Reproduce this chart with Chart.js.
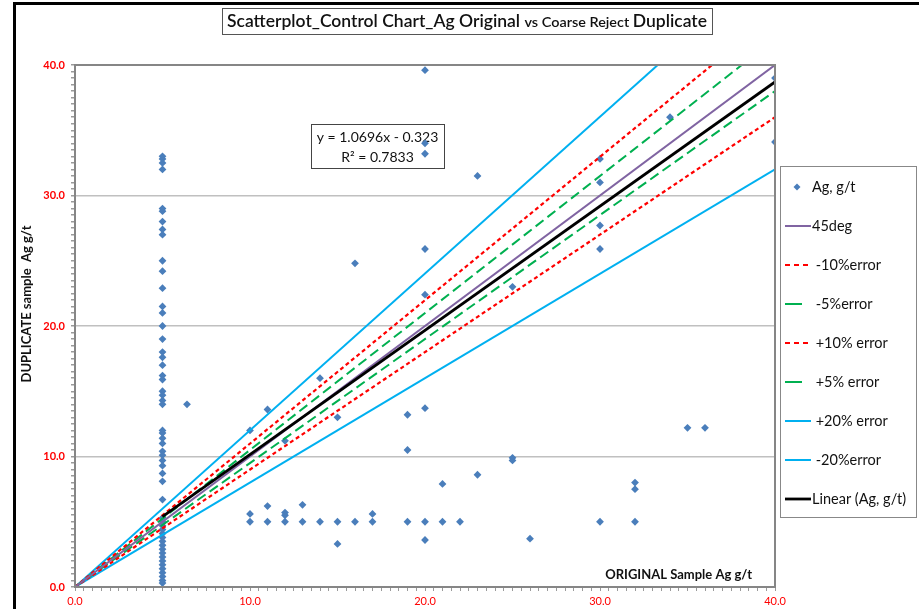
<!DOCTYPE html>
<html>
<head>
<meta charset="utf-8">
<script src="https://cdn.jsdelivr.net/npm/chart.js@4.4.1/dist/chart.umd.min.js"></script>
<style>
  html, body { margin: 0; padding: 0; background: #fff; }
  #wrap { position: relative; width: 919px; height: 609px; }
</style>
</head>
<body>
<div id="wrap"><canvas id="qcChart" width="919" height="609"></canvas></div>
<script>
// Ag g/t, original sample vs coarse reject duplicate
const origAg = [
  5, 5, 5, 5, 5, 5, 5, 5, 5, 5, 5, 5, 5, 5, 5, 5, 5, 5, 5, 5, 5, 5, 5, 5, 5, 5, 5,
  5, 5, 5, 5, 5, 5, 5, 5, 5, 5, 5, 5, 5, 5, 5, 5, 5, 5, 5, 5, 5, 5, 5, 5, 5, 5, 5,
  6.4, 10, 10, 10, 11, 11, 11, 12, 12, 12, 12, 13, 13, 14, 14, 15, 15, 15, 16, 16, 17, 17,
  19, 19, 19, 20, 20, 20, 20, 20, 20, 20, 20, 21, 21, 22, 23, 23, 25, 25, 25, 26,
  30, 30, 30, 30, 30, 32, 32, 32, 34, 35, 36, 40, 40
];
const dupAg = [
  33.0, 32.8, 32.5, 32.0, 29.0, 28.8, 28.0, 27.4, 27.0, 25.0, 24.2, 22.9, 21.5, 21.0, 20.0, 19.0, 18.0, 17.6, 17.0, 16.2, 15.9, 15.0, 14.7, 14.3, 14.0, 12.0, 11.8,
  11.4, 11.0, 10.4, 10.1, 9.7, 9.3, 8.7, 8.1, 6.7, 5.3, 5.0, 4.7, 4.4, 4.1, 3.8, 3.5, 3.2, 2.9, 2.6, 2.3, 2.0, 1.7, 1.4, 1.1, 0.8, 0.5, 0.3,
  14.0, 12.0, 5.6, 5.0, 13.6, 6.2, 5.0, 11.2, 5.7, 5.5, 5.0, 6.3, 5.0, 16.0, 5.0, 13.0, 5.0, 3.3, 24.8, 5.0, 5.6, 5.0,
  13.2, 10.5, 5.0, 39.6, 34.0, 33.2, 25.9, 22.4, 13.7, 5.0, 3.6, 7.9, 5.0, 5.0, 31.5, 8.6, 23.0, 9.9, 9.7, 3.7,
  32.8, 31.0, 27.7, 25.9, 5.0, 8.0, 7.5, 5.0, 36.0, 12.2, 12.2, 39.0, 34.1
];

// reference lines, end points where they leave the plot
const line45X = [0, 40],     line45Y = [0, 40];
const minus10X = [0, 40],    minus10Y = [0, 36];
const minus5X = [0, 40],     minus5Y = [0, 38];
const plus10X = [0, 36.4],   plus10Y = [0, 40];
const plus5X = [0, 38.1],    plus5Y = [0, 40];
const plus20X = [0, 33.3],   plus20Y = [0, 40];
const minus20X = [0, 40],    minus20Y = [0, 32];
const trendX = [5, 40],      trendY = [5.4, 38.7];

const majorTicks = [0, 10, 20, 30, 40];

const FONT = "Lato, 'Open Sans', sans-serif";

function pts(xs, ys) {
  return xs.map((x, i) => ({ x: x, y: ys[i] }));
}

function lineSet(label, xs, ys, color, width, dash, order) {
  return {
    type: "line",
    label: label,
    data: pts(xs, ys),
    borderColor: color,
    backgroundColor: color,
    borderWidth: width,
    borderDash: dash,
    pointRadius: 0,
    fill: false,
    tension: 0,
    order: order
  };
}

const datasets = [
  {
    type: "scatter",
    label: "Ag, g/t",
    data: pts(origAg, dupAg),
    pointStyle: "rectRot",
    pointRadius: 3.9,
    pointBackgroundColor: "#4A7EBB",
    pointBorderColor: "#4A7EBB",
    borderWidth: 0,
    order: 2
  },
  lineSet("45deg", line45X, line45Y, "#8064A2", 2, [], 1),
  lineSet(" -10%error", minus10X, minus10Y, "#FF0000", 2.2, [4, 3], 1),
  lineSet(" -5%error", minus5X, minus5Y, "#00B050", 2, [10, 5], 1),
  lineSet(" +10% error", plus10X, plus10Y, "#FF0000", 2.2, [4, 3], 1),
  lineSet(" +5% error", plus5X, plus5Y, "#00B050", 2, [10, 5], 1),
  lineSet(" +20% error", plus20X, plus20Y, "#00B0F0", 2, [], 1),
  lineSet(" -20%error", minus20X, minus20Y, "#00B0F0", 2, [], 1),
  lineSet("Linear (Ag, g/t)", trendX, trendY, "#000000", 2.8, [], 0)
];

// outer frame, plot border, title, labels, equation and legend
const decorations = {
  id: "decorations",
  beforeDraw(chart) {
    const c = chart.ctx;
    c.save();
    c.fillStyle = "#fff";
    c.fillRect(0, 0, chart.width, chart.height);
    c.fillStyle = "#000";
    c.fillRect(13, 2, 3, chart.height - 2);
    c.fillRect(13, 2, chart.width - 13, 3);
    c.restore();
  },
  beforeDatasetsDraw(chart) {
    // regression label sits under the markers
    const c = chart.ctx;
    c.save();
    c.fillStyle = "#fff";
    c.fillRect(311, 124, 133, 44);
    c.strokeStyle = "#444";
    c.lineWidth = 1;
    c.strokeRect(311.5, 124.5, 133, 44);
    c.fillStyle = "#111";
    c.font = "14px " + FONT;
    c.textAlign = "center";
    c.textBaseline = "middle";
    c.fillText("y = 1.0696x - 0.323", 377.5, 137);
    c.fillText("R\u00B2 = 0.7833", 377.5, 157);
    c.restore();
  },
  afterDraw(chart) {
    const c = chart.ctx;
    const a = chart.chartArea;
    c.save();

    // plot area border
    c.strokeStyle = "#868686";
    c.lineWidth = 2;
    c.strokeRect(a.left, a.top, a.right - a.left, a.bottom - a.top);

    // title in a box
    const parts = [
      ["Scatterplot_Control Chart_Ag Original ", 17],
      ["vs Coarse Reject ", 14],
      ["Duplicate", 17]
    ];
    let w = 0;
    parts.forEach(p => { c.font = "600 " + p[1] + "px " + FONT; w += c.measureText(p[0]).width; });
    const s = 480 / w;
    c.strokeStyle = "#555";
    c.lineWidth = 1;
    c.strokeRect(222.5, 8.5, 490, 26);
    c.fillStyle = "#111";
    c.textBaseline = "alphabetic";
    c.textAlign = "left";
    c.translate(467 - 240, 27);
    c.scale(s, 1);
    let x = 0;
    parts.forEach(p => {
      c.font = "600 " + p[1] + "px " + FONT;
      c.fillText(p[0], x, 0);
      x += c.measureText(p[0]).width;
    });
    c.setTransform(1, 0, 0, 1, 0, 0);

    // axis titles
    c.fillStyle = "#111";
    c.font = "bold 13px " + FONT;
    c.textAlign = "right";
    c.textBaseline = "middle";
    c.fillText("ORIGINAL Sample Ag g/t", 752, 575);
    c.save();
    c.translate(27, 304);
    c.rotate(-Math.PI / 2);
    c.textAlign = "center";
    c.fillText("DUPLICATE sample  Ag g/t", 0, 0);
    c.restore();

    // legend box
    c.fillStyle = "#fff";
    c.fillRect(780, 166, 137, 352);
    c.strokeStyle = "#888";
    c.lineWidth = 1;
    c.strokeRect(780.5, 166.5, 136, 351);
    c.font = "14.5px " + FONT;
    c.textAlign = "left";
    chart.data.datasets.forEach((ds, i) => {
      const y = 187 + i * 39;
      if (ds.type === "scatter") {
        c.fillStyle = ds.pointBackgroundColor;
        c.beginPath();
        c.moveTo(797, y - 3.5);
        c.lineTo(800.5, y);
        c.lineTo(797, y + 3.5);
        c.lineTo(793.5, y);
        c.closePath();
        c.fill();
      } else {
        c.strokeStyle = ds.borderColor;
        c.lineWidth = ds.borderWidth;
        c.setLineDash(ds.borderDash.length ? (ds.borderDash[0] > 6 ? [17, 10] : [5, 4]) : []);
        c.beginPath();
        c.moveTo(785, y);
        c.lineTo(811, y);
        c.stroke();
        c.setLineDash([]);
      }
      c.fillStyle = "#111";
      c.fillText(ds.label, 812, y);
    });

    c.restore();
  }
};

const ctx = document.getElementById("qcChart").getContext("2d");

const qcChart = new Chart(ctx, {
  data: { datasets: datasets },
  options: {
    responsive: false,
    animation: false,
    layout: { padding: { top: 65, right: 144, left: 0, bottom: 0 } },
    plugins: {
      legend: { display: false },
      tooltip: { enabled: false }
    },
    scales: {
      x: {
        type: "linear",
        min: 0,
        max: 40,
        afterFit(scale) { scale.height = 22; },
        border: { display: false },
        grid: {
          color: "rgba(0,0,0,0)",
          tickColor: "#9a9a9a",
          tickLength: 4,
          lineWidth: 1
        },
        ticks: {
          stepSize: 0.5,
          autoSkip: false,
          maxRotation: 0,
          padding: 4,
          color: "#FF0000",
          font: { family: FONT, size: 11 },
          callback: v => majorTicks.includes(v) ? v.toFixed(1) : ""
        }
      },
      y: {
        type: "linear",
        min: 0,
        max: 40,
        afterFit(scale) { scale.width = 75; },
        border: { display: false },
        grid: {
          color: c => (c.tick && majorTicks.includes(c.tick.value) && c.tick.value > 0 && c.tick.value < 40) ? "#c0c0c0" : "rgba(0,0,0,0)",
          tickColor: "#9a9a9a",
          tickLength: 4,
          lineWidth: 1.5
        },
        ticks: {
          stepSize: 0.5,
          autoSkip: false,
          padding: 6,
          color: "#FF0000",
          font: { family: FONT, size: 11, weight: "bold" },
          callback: v => majorTicks.includes(v) ? v.toFixed(1) : ""
        }
      }
    }
  },
  plugins: [decorations]
});
</script>
</body>
</html>
